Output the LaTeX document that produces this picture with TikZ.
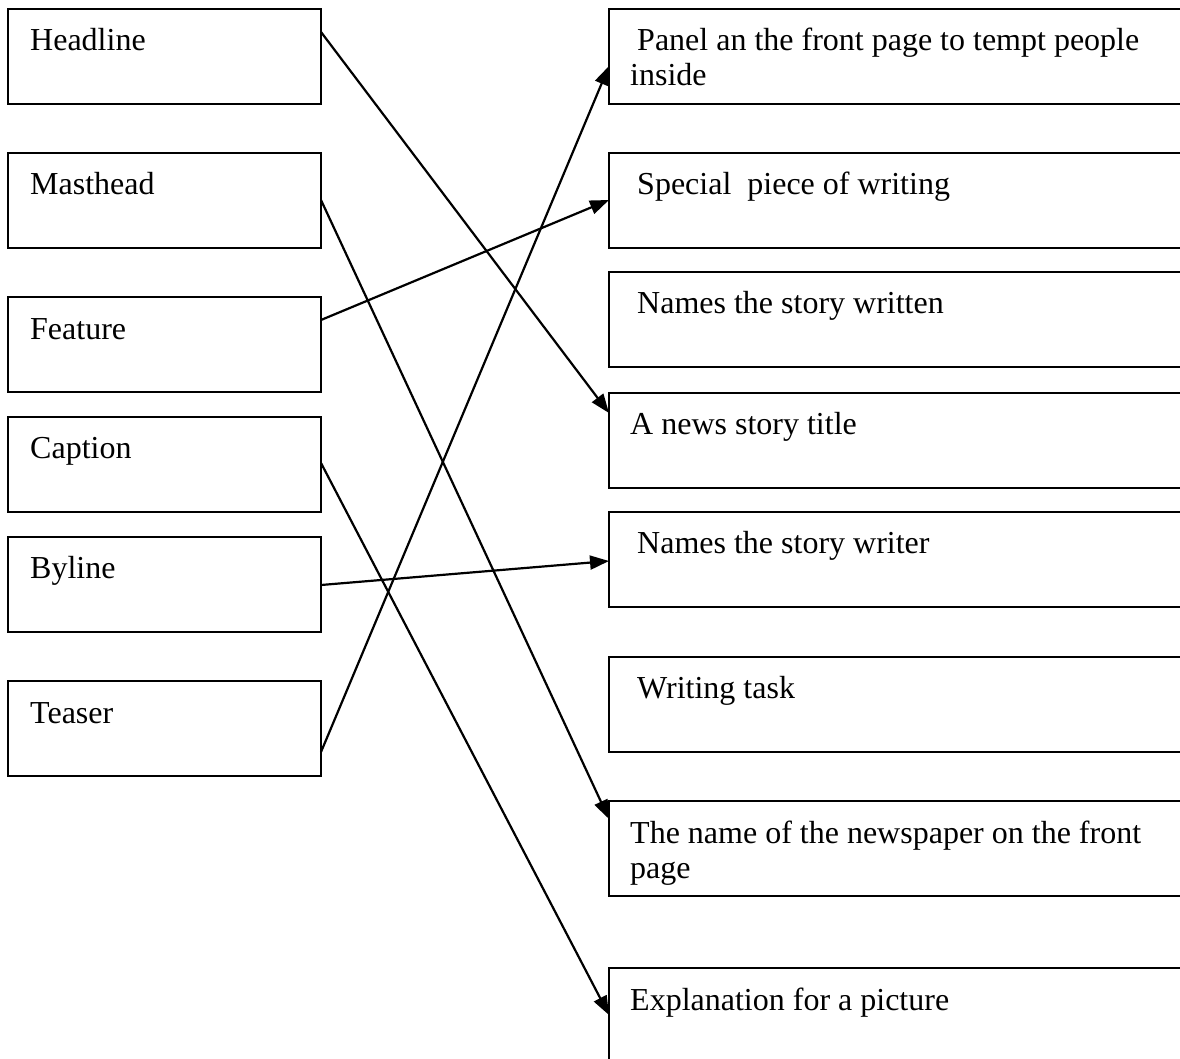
\documentclass[tikz,border=0pt]{standalone}
\usepackage{fontspec}
\setmainfont{Liberation Serif}
\usetikzlibrary{arrows.meta,calc}
\begin{document}
\begin{tikzpicture}[x=1pt,y=-1pt,
  lbox/.style={draw, line width=2pt, minimum width=313pt, minimum height=95pt, anchor=north west, inner sep=0pt, outer sep=0pt},
  rbox/.style={lbox, minimum width=620pt},
  txt/.style={anchor=base west, inner sep=0pt, font=\fontsize{32}{36}\selectfont},
  arr/.style={line width=2.2pt, -{Triangle[length=19pt,width=14pt]}}]
\useasboundingbox (0,0) rectangle (1180,1059);
\clip (0,0) rectangle (1180,1059);
% left boxes
\node[lbox] (headline) at (8,9) {};
\node[lbox] (masthead) at (8,153) {};
\node[lbox] (feature) at (8,297) {};
\node[lbox] (caption) at (8,417) {};
\node[lbox] (byline) at (8,537) {};
\node[lbox] (teaser) at (8,681) {};
\node[txt] (t1) at ($(headline.north west)+(22,42)$) {Headline};
\node[txt] (t2) at ($(masthead.north west)+(22,42)$) {Masthead};
\node[txt] (t3) at ($(feature.north west)+(22,42)$) {Feature};
\node[txt] (t4) at ($(caption.north west)+(22,41)$) {Caption};
\node[txt] (t5) at ($(byline.north west)+(22,41)$) {Byline};
\node[txt] (t6) at ($(teaser.north west)+(22,42)$) {Teaser};
% right boxes
\node[rbox] (panel) at (609,9) {};
\node[rbox] (special) at (609,153) {};
\node[rbox] (written) at (609,272) {};
\node[rbox] (title) at (609,393) {};
\node[rbox] (writer) at (609,512) {};
\node[rbox] (task) at (609,657) {};
\node[rbox] (newspaper) at (609,801) {};
\node[rbox] (explanation) at (609,968) {};
\node[txt] (r1a) at ($(panel.north west)+(28,42)$) {Panel an the front page to tempt people};
\node[txt] (r1b) at ($(panel.north west)+(21,77)$) {inside};
\node[txt] (r2) at ($(special.north west)+(28,42)$) {Special\ \ piece of writing};
\node[txt] (r3) at ($(written.north west)+(28,41)$) {Names the story written};
\node[txt] (r4) at ($(title.north west)+(21,41)$) {A news story title};
\node[txt] (r5) at ($(writer.north west)+(28,41)$) {Names the story writer};
\node[txt] (r6) at ($(task.north west)+(28,41)$) {Writing task};
\node[txt] (r7a) at ($(newspaper.north west)+(21,42)$) {The name of the newspaper on the front};
\node[txt] (r7b) at ($(newspaper.north west)+(21,77)$) {page};
\node[txt] (r8) at ($(explanation.north west)+(21,42)$) {Explanation for a picture};
% connectors
\draw[arr] ($(headline.north east)+(0,23)$) -- ($(title.north west)+(0,20)$);
\draw[arr] ($(masthead.north east)+(0,47)$) -- ($(newspaper.north west)+(0,18)$);
\draw[arr] ($(feature.north east)+(0,23)$) -- ($(special.north west)+(0,47)$);
\draw[arr] ($(caption.north east)+(0,46)$) -- ($(explanation.north west)+(0,47)$);
\draw[arr] ($(byline.north east)+(0,48)$) -- ($(writer.north west)+(0,49)$);
\draw[arr] ($(teaser.north east)+(0,71)$) -- ($(panel.north west)+(0,57)$);
\end{tikzpicture}
\end{document}
